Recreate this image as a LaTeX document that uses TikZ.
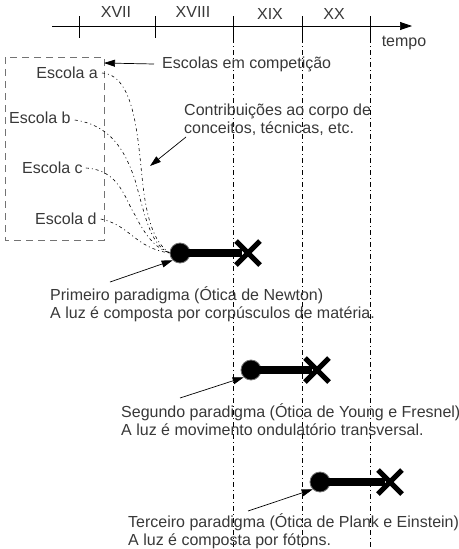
\documentclass[tikz,border=0pt]{standalone}
\usepackage{fontspec}
\setmainfont{Liberation Sans}
\usetikzlibrary{arrows.meta}
\tikzset{
  lbl/.style={font=\fontsize{16}{18}\selectfont, text=black!78, inner sep=0pt},
  ptr/.style={-{Triangle[length=11pt,width=7pt]}, line width=0.7pt},
  era/.style={line width=0.6pt, dash pattern=on 5pt off 3pt on 1pt off 3pt},
  flow/.style={line width=0.6pt, dash pattern=on 3pt off 3pt on 1pt off 3pt},
  dot/.style={circle, fill=black, draw=black!55, line width=0.8pt, minimum size=20pt, inner sep=0pt},
  bar/.style={line width=8pt},
  cross/.style={line width=5pt},
}
\begin{document}
\begin{tikzpicture}[x=1pt,y=-1pt]
\useasboundingbox (0,0) rectangle (458,549);
% timeline
\coordinate (t0) at (52,26);
\coordinate (t1) at (412,26);
\draw[-{Triangle[length=12pt,width=8pt]}, line width=0.7pt] (t0) -- (t1);
\foreach \x in {79,155,233,302,370} \draw[line width=0.7pt] (\x,16) -- (\x,38);
\foreach \x in {233,302,370} \draw[era] (\x,38) -- (\x,549);
\node[lbl] (c17) at (116,12) {XVII};
\node[lbl] (c18) at (193,12) {XVIII};
\node[lbl] (c19) at (270,14) {XIX};
\node[lbl] (c20) at (334,14) {XX};
\node[lbl] (tempo) at (404,43) {tempo};
% schools box
\draw[black!55, line width=0.7pt, dash pattern=on 7pt off 5pt] (5,57) rectangle (104,240);
\coordinate (boxr) at (104,63);
\node[lbl, anchor=east] (ea) at (98,73) {Escola a};
\node[lbl, anchor=west] (eb) at (9,118) {Escola b};
\node[lbl, anchor=west] (ec) at (22,168) {Escola c};
\node[lbl, anchor=west] (ed) at (35,219) {Escola d};
\node[lbl, anchor=west] (comp) at (162,64) {Escolas em competição};
\draw[ptr] (comp.west) ++(-8,0) coordinate (cs) (cs) -- (boxr);
\node[lbl, anchor=north west, align=left] (contr) at (184,104) {Contribuições ao corpo de\\conceitos, técnicas, etc.};
\coordinate (cf) at (186,137);
\coordinate (ct) at (150,166);
\draw[ptr] (cf) -- (ct);
% paradigm 1
\node[dot] (p1) at (180,253) {};
\coordinate (x1) at (248,253);
\draw[bar] (p1.center) -- (242,253);
\draw[cross] (x1) ++(-12,-12) -- ++(24,24) (x1) ++(12,-12) -- ++(-24,24);
% flows
\draw[flow] (ea.east) ++(4,0) .. controls (140,75) and (138,160) .. (145,200) .. controls (150,230) and (158,245) .. (p1.west);
\draw[flow] (eb.east) ++(4,2) .. controls (110,125) and (125,150) .. (135,180) .. controls (145,215) and (150,245) .. (p1.west);
\draw[flow] (ec.east) ++(3,0) .. controls (120,170) and (125,200) .. (135,215) .. controls (145,235) and (155,248) .. (p1.west);
\draw[flow] (ed.east) ++(4,0) .. controls (130,225) and (135,248) .. (p1.west);
\node[lbl, anchor=west, align=left] (t1a) at (50,304) {Primeiro paradigma (Ótica de Newton)\\A luz é composta por corpúsculos de matéria.};
\coordinate (a1) at (110,282);
\draw[ptr] (a1) -- (p1.south west);
% paradigm 2
\node[dot] (p2) at (251,370) {};
\coordinate (x2) at (317,370);
\draw[bar] (p2.center) -- (312,370);
\draw[cross] (x2) ++(-12,-12) -- ++(24,24) (x2) ++(12,-12) -- ++(-24,24);
\node[lbl, anchor=west, align=left] (t2a) at (121,420) {Segundo paradigma (Ótica de Young e Fresnel)\\A luz é movimento ondulatório transversal.};
\coordinate (a2) at (180,398);
\draw[ptr] (a2) -- (p2.south west);
% paradigm 3
\node[dot] (p3) at (320,482) {};
\coordinate (x3) at (390,482);
\draw[bar] (p3.center) -- (385,482);
\draw[cross] (x3) ++(-12,-12) -- ++(24,24) (x3) ++(12,-12) -- ++(-24,24);
\node[lbl, anchor=west, align=left] (t3a) at (128,531) {Terceiro paradigma (Ótica de Plank e Einstein)\\A luz é composta por fótons.};
\coordinate (a3) at (248,511);
\draw[ptr] (a3) -- (p3.south west);
\end{tikzpicture}
\end{document}
